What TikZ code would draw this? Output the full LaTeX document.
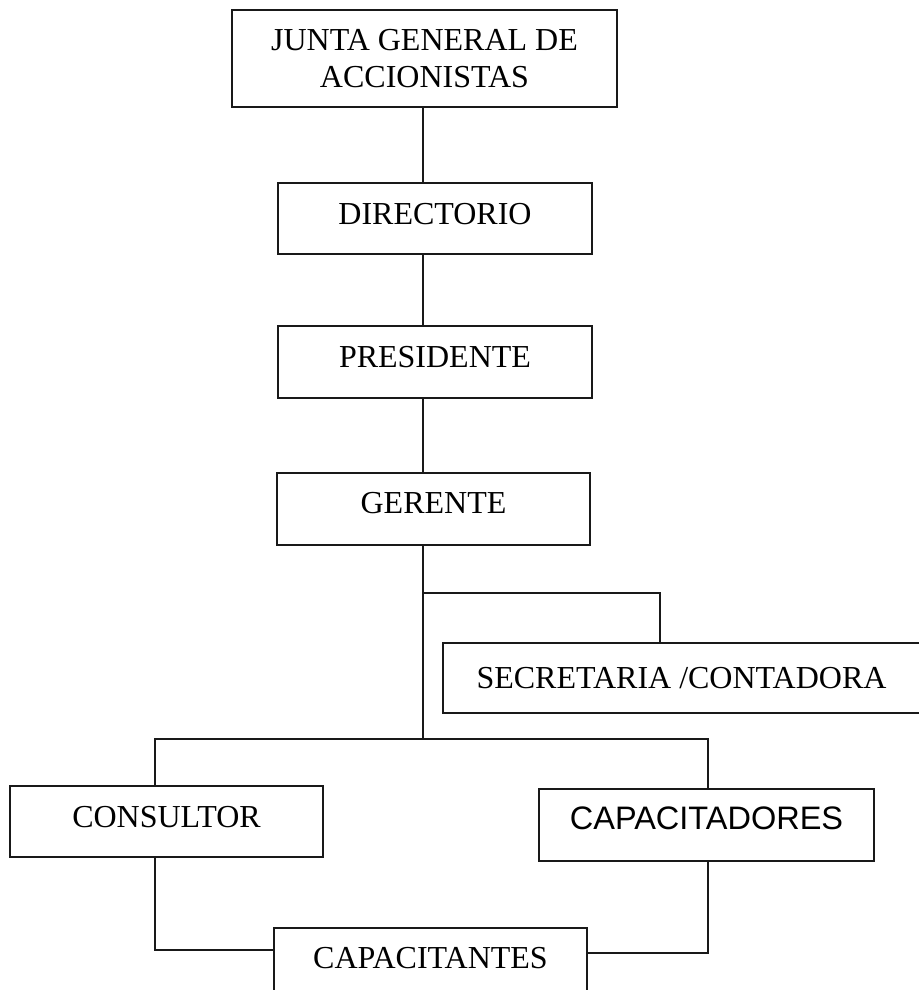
\documentclass[tikz,border=0pt]{standalone}
\usepackage{fontspec}
\setmainfont{Liberation Serif}
\newfontfamily\arialfont{Liberation Sans}
\begin{document}
\begin{tikzpicture}[x=1pt,y=-1pt,
  box/.style={draw=black!90,line width=2.6pt,rectangle,inner sep=0pt,
    font=\fontsize{32}{37}\selectfont,align=center},
  lift/.style={text height=#1,text depth=0pt},
  conn/.style={draw=black!90,line width=2.6pt}]
\useasboundingbox[fill=white] (0,0) rectangle (918,990);
\node[box,minimum width=385pt,minimum height=97pt] (junta) at (424.5,58.5) {JUNTA GENERAL DE\\ACCIONISTAS};
\node[box,lift=11pt,minimum width=314pt,minimum height=71pt] (directorio) at (435,218.5) {DIRECTORIO};
\node[box,lift=11pt,minimum width=314pt,minimum height=72pt] (presidente) at (435,362) {PRESIDENTE};
\node[box,lift=9pt,minimum width=313pt,minimum height=72pt] (gerente) at (433.5,509) {GERENTE};
\node[box,lift=21pt,minimum width=560pt,minimum height=70pt] (secretaria) at (723,678) {SECRETARIA /CONTADORA\hspace*{83pt}};
\node[box,lift=11pt,minimum width=313pt,minimum height=71pt] (consultor) at (166.5,821.5) {CONSULTOR};
\node[box,lift=9pt,minimum width=335pt,minimum height=72pt,font=\arialfont\fontsize{32.5}{37}\selectfont] (capacitadores) at (706.5,825) {CAPACITADORES};
\node[box,lift=9pt,minimum width=313pt,minimum height=72pt] (capacitantes) at (430.5,964) {CAPACITANTES};
\coordinate (tx) at (423,0);
\coordinate (branch) at (423,593);
\coordinate (trunk) at (423,739);
\coordinate (lx) at (155,0);
\coordinate (rx) at (708,0);
\coordinate (sx) at (660,0);
\coordinate (lj) at (155,950);
\coordinate (rj) at (708,953);
\draw[conn] (junta.south -| tx) -- (directorio.north -| tx);
\draw[conn] (directorio.south -| tx) -- (presidente.north -| tx);
\draw[conn] (presidente.south -| tx) -- (gerente.north -| tx);
\draw[conn] (gerente.south -| tx) -- (trunk);
\draw[conn] (branch) -| (secretaria.north -| sx);
\draw[conn] (consultor.north -| lx) |- (trunk) -| (capacitadores.north -| rx);
\draw[conn] (consultor.south -| lx) -- (lj) -- (lj -| capacitantes.west);
\draw[conn] (capacitadores.south -| rx) -- (rj) -- (rj -| capacitantes.east);
\end{tikzpicture}
\end{document}
